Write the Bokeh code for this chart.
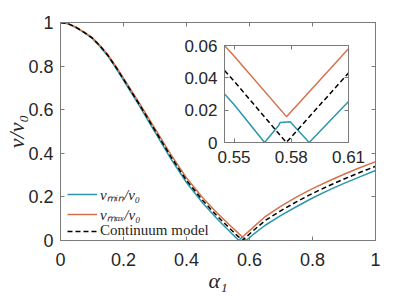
from bokeh.plotting import figure
from bokeh.models import (Range1d, LinearAxis, FixedTicker, Legend, LegendItem,
                          CustomLabelingPolicy)
from bokeh.embed import file_html
from bokeh.resources import INLINE

# ---------------- data ----------------
alpha_cont = [0, 0.025, 0.05, 0.075, 0.1, 0.125, 0.15, 0.175, 0.2, 0.25, 0.3, 0.35, 0.4, 0.45,
              0.5, 0.545, 0.55, 0.5774, 0.61, 0.65, 0.7, 0.75, 0.8, 0.85, 0.9, 0.95, 1.0]
v_cont = [1.0, 0.994, 0.977, 0.955, 0.93, 0.893, 0.85, 0.797, 0.74, 0.625, 0.505, 0.385, 0.276,
          0.186, 0.108, 0.0445, 0.038, 0.0, 0.043, 0.092, 0.137, 0.178, 0.216, 0.25, 0.282,
          0.312, 0.34]

alpha_min = [0, 0.025, 0.05, 0.075, 0.1, 0.125, 0.15, 0.175, 0.2, 0.25, 0.3, 0.35, 0.4, 0.45,
             0.5, 0.545, 0.55, 0.566, 0.5733, 0.5742, 0.5794, 0.5894, 0.61, 0.65, 0.7, 0.75,
             0.8, 0.85, 0.9, 0.95, 1.0]
v_min = [1.0, 0.994, 0.976, 0.954, 0.928, 0.89, 0.847, 0.793, 0.735, 0.619, 0.497, 0.376, 0.266,
         0.174, 0.095, 0.030, 0.0235, 0.0, 0.0104, 0.0124, 0.0128, 0.0, 0.0254, 0.07, 0.115,
         0.156, 0.195, 0.23, 0.262, 0.292, 0.321]

alpha_max = [0, 0.025, 0.05, 0.075, 0.1, 0.125, 0.15, 0.175, 0.2, 0.25, 0.3, 0.35, 0.4, 0.45,
             0.5, 0.545, 0.55, 0.5775, 0.61, 0.65, 0.7, 0.75, 0.8, 0.85, 0.9, 0.95, 1.0]
v_max = [1.0, 0.994, 0.978, 0.956, 0.932, 0.896, 0.853, 0.801, 0.745, 0.631, 0.513, 0.395, 0.287,
         0.198, 0.122, 0.06, 0.0535, 0.016, 0.058, 0.11, 0.158, 0.2, 0.238, 0.272, 0.304,
         0.334, 0.362]

main_ticks = [0, 0.2, 0.4, 0.6, 0.8, 1]
main_tick_labels = ["0", "0.2", "0.4", "0.6", "0.8", "1"]
inset_x_ticks = [0.55, 0.58, 0.61]
inset_x_labels = ["0.55", "0.58", "0.61"]
inset_y_ticks = [0, 0.02, 0.04, 0.06]
inset_y_labels = ["0", "0.02", "0.04", "0.06"]

legend_labels = ["vₘᵢₙ/v₀", "vₘₐₓ/v₀", "Continuum model"]

# ---------------- styles ----------------
BLUE = "#2a97aa"
ORANGE = "#d5714b"
AX = "#7a7a7a"
TXT = "#262626"
SANS = "Liberation Sans"
SERIF = "Liberation Serif"
W, H = 415, 296

NO_LABELS_CODE = """
for (const i of indices) { indices.unset(i) }
return indices
"""


def style_axis(ax, ticks, labels, size, hidden=False):
    ax.ticker = FixedTicker(ticks=ticks)
    ax.minor_tick_line_color = None
    ax.major_tick_in = 4
    ax.major_tick_out = 0
    ax.axis_line_color = AX
    ax.major_tick_line_color = AX
    ax.axis_line_width = 1
    ax.major_label_text_font = SANS
    ax.major_label_text_font_size = size
    ax.major_label_text_color = TXT
    ax.major_label_overrides = dict(zip(ticks, labels))
    if hidden:
        ax.major_label_policy = CustomLabelingPolicy(code=NO_LABELS_CODE)
        ax.major_label_standoff = 0


# ---------------- main figure ----------------
p = figure(width=W, height=H, x_range=Range1d(0, 1), y_range=Range1d(0, 1),
           output_backend="svg", toolbar_location=None,
           min_border_left=60, min_border_right=40, min_border_top=22, min_border_bottom=56)
p.xgrid.visible = False
p.ygrid.visible = False
p.outline_line_color = AX
p.background_fill_color = "white"
p.border_fill_color = "white"

style_axis(p.xaxis[0], main_ticks, main_tick_labels, "18px")
style_axis(p.yaxis[0], main_ticks, main_tick_labels, "18px")
p.xaxis[0].major_label_standoff = 12
p.yaxis[0].major_label_standoff = 7

p.xaxis[0].axis_label = "α₁"
p.xaxis[0].axis_label_text_font = SERIF
p.xaxis[0].axis_label_text_font_style = "italic"
p.xaxis[0].axis_label_text_font_size = "22px"
p.xaxis[0].axis_label_text_color = TXT
p.xaxis[0].axis_label_standoff = -1

p.yaxis[0].axis_label = "v/v₀"
p.yaxis[0].axis_label_text_font = SERIF
p.yaxis[0].axis_label_text_font_style = "italic"
p.yaxis[0].axis_label_text_font_size = "22px"
p.yaxis[0].axis_label_text_color = TXT
p.yaxis[0].axis_label_standoff = -4

top_ax = LinearAxis()
style_axis(top_ax, main_ticks, main_tick_labels, "18px", hidden=True)
p.add_layout(top_ax, "above")
right_ax = LinearAxis()
style_axis(right_ax, main_ticks, main_tick_labels, "18px", hidden=True)
p.add_layout(right_ax, "right")

r_min = p.line(alpha_min, v_min, line_color=BLUE, line_width=1.5)
r_max = p.line(alpha_max, v_max, line_color=ORANGE, line_width=1.5)
r_cont = p.line(alpha_cont, v_cont, line_color="black", line_width=1.5, line_dash="5 3")

leg1 = Legend(items=[LegendItem(label=legend_labels[0], renderers=[r_min]),
                     LegendItem(label=legend_labels[1], renderers=[r_max])],
              location=(7, 16))
leg2 = Legend(items=[LegendItem(label=legend_labels[2], renderers=[r_cont])],
              location=(7, 1))
for lg, st in ((leg1, "italic"), (leg2, "normal")):
    lg.label_text_font = SERIF
    lg.label_text_font_style = st
    lg.label_text_font_size = "15px"
    lg.label_text_color = TXT
    lg.label_height = 16
    lg.glyph_height = 16
    lg.glyph_width = 30
    lg.label_standoff = 3
    lg.spacing = 0
    lg.padding = 0
    lg.margin = 0
    lg.border_line_color = None
    lg.background_fill_alpha = 0
    p.add_layout(lg, "center")

# ---------------- inset figure (same canvas size, overlaid, frame placed by its borders) ----------------
inset = figure(width=W, height=H, x_range=Range1d(0.545, 0.61), y_range=Range1d(0, 0.06),
               output_backend="svg", toolbar_location=None,
               min_border_left=224, min_border_right=67, min_border_top=45, min_border_bottom=154)
inset.xgrid.visible = False
inset.ygrid.visible = False
inset.outline_line_color = AX
inset.background_fill_color = "white"
inset.border_fill_alpha = 0
style_axis(inset.xaxis[0], inset_x_ticks, inset_x_labels, "17px")
style_axis(inset.yaxis[0], inset_y_ticks, inset_y_labels, "17px")
inset.xaxis[0].major_label_standoff = 8
inset.yaxis[0].major_label_standoff = 7
it = LinearAxis()
style_axis(it, inset_x_ticks, inset_x_labels, "17px", hidden=True)
inset.add_layout(it, "above")
ir = LinearAxis()
style_axis(ir, inset_y_ticks, inset_y_labels, "17px", hidden=True)
inset.add_layout(ir, "right")

inset.line(alpha_min, v_min, line_color=BLUE, line_width=1.5)
inset.line(alpha_max, v_max, line_color=ORANGE, line_width=1.5)
inset.line(alpha_cont, v_cont, line_color="black", line_width=1.5, line_dash="5 3")
inset.styles = {"position": "absolute", "left": "0px", "top": "0px", "z-index": "1"}

open("out.html", "w").write(file_html([p, inset], INLINE))
